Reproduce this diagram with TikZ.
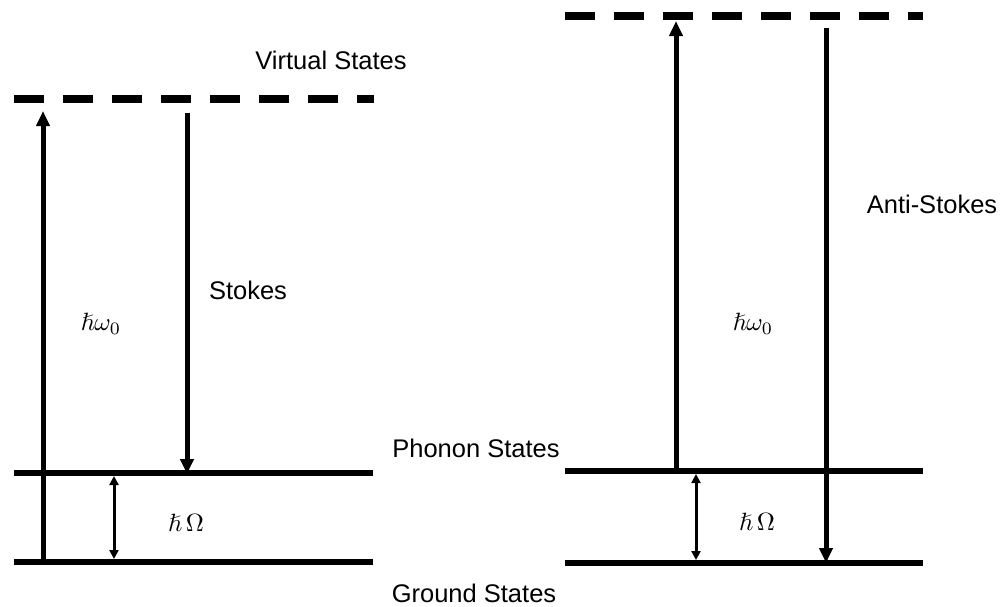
\documentclass[tikz,border=0pt]{standalone}
\usepackage{amssymb}
\usepackage{graphicx}
\usepackage{fontspec}
\setmainfont{Liberation Sans}
\usetikzlibrary{arrows.meta}
\newcommand{\bigmath}[1]{\scalebox{2.5}{$#1$}}
\begin{document}
\begin{tikzpicture}[x=1pt,y=-1pt,
  level/.style={line width=6pt},
  virt/.style={line width=8pt, dash pattern=on 30pt off 19pt},
  photon/.style={line width=5pt, -{Triangle[width=13pt,length=15pt]}},
  gap/.style={line width=3pt, {Triangle[width=9pt,length=9pt]}-{Triangle[width=9pt,length=9pt]}, shorten <=3pt, shorten >=3pt},
  lbl/.style={font=\fontsize{25.5}{28}\selectfont, inner sep=0pt},
  mlbl/.style={inner sep=0pt}]
\useasboundingbox (0,0) rectangle (1007,606);
% left levels
\coordinate (LvA) at (14,99);  \coordinate (LvB) at (374,99);
\coordinate (LpA) at (14,473); \coordinate (LpB) at (373,473);
\coordinate (LgA) at (14,562); \coordinate (LgB) at (373,562);
\draw[virt] (LvA) -- (LvB);
\draw[level] (LpA) -- (LpB);
\draw[level] (LgA) -- (LgB);
% right levels
\coordinate (RvA) at (565,16);  \coordinate (RvB) at (923,16);
\coordinate (RpA) at (565,471); \coordinate (RpB) at (923,471);
\coordinate (RgA) at (565,563); \coordinate (RgB) at (923,563);
\draw[virt] (RvA) -- (RvB);
\draw[level] (RpA) -- (RpB);
\draw[level] (RgA) -- (RgB);
% left arrows
\coordinate (Lup0) at (43,565); \coordinate (Lup1) at (43,111);
\draw[photon] (Lup0) -- (Lup1);
\coordinate (Ls0) at (187,113); \coordinate (Ls1) at (187,474);
\draw[photon] (Ls0) -- (Ls1);
\coordinate (Lg0) at (114,473); \coordinate (Lg1) at (114,562);
\draw[gap] (Lg0) -- (Lg1);
% right arrows
\coordinate (Rup0) at (676,474); \coordinate (Rup1) at (676,21);
\draw[photon] (Rup0) -- (Rup1);
\coordinate (Ra0) at (826,28); \coordinate (Ra1) at (826,563);
\draw[photon] (Ra0) -- (Ra1);
\coordinate (Rg0) at (696,471); \coordinate (Rg1) at (696,563);
\draw[gap] (Rg0) -- (Rg1);
% labels
\node[lbl] (virtual) at (331,60) {Virtual States};
\node[lbl] (stokes) at (248,290) {Stokes};
\node[lbl] (anti) at (932,204) {Anti-Stokes};
\node[lbl] (phonon) at (476,448) {Phonon States};
\node[lbl] (ground) at (474,593) {Ground States};
\node[mlbl] (hwL) at (101,324) {\bigmath{\hslash\omega_0}};
\node[mlbl] (hwR) at (753,324) {\bigmath{\hslash\omega_0}};
\node[mlbl] (hOL) at (186,523) {\bigmath{\hslash\,\Omega}};
\node[mlbl] (hOR) at (757,522) {\bigmath{\hslash\,\Omega}};
\end{tikzpicture}
\end{document}
